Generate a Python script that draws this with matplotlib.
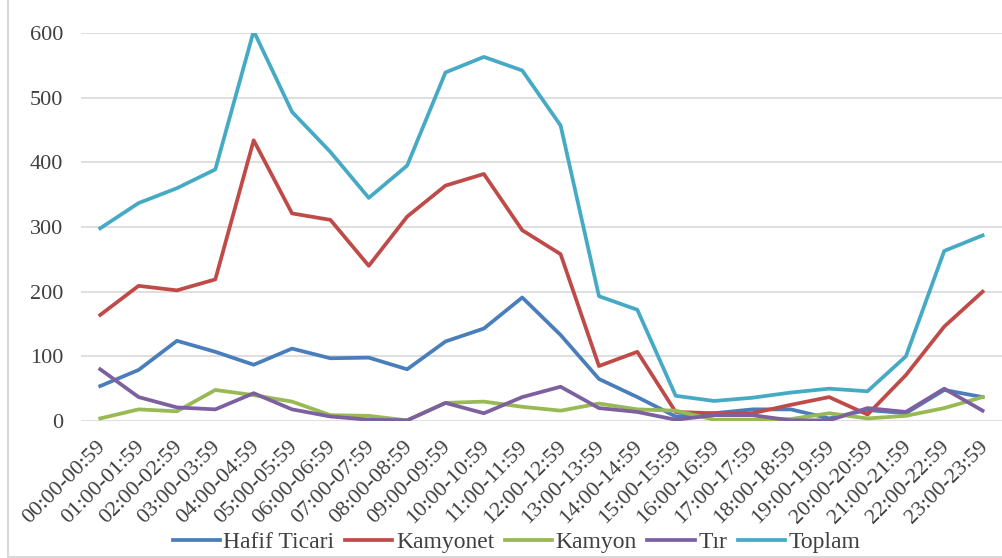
import matplotlib.pyplot as plt
import matplotlib.transforms as mtransforms
from matplotlib.lines import Line2D

plt.rcParams["font.family"] = ["Liberation Serif", "DejaVu Serif"]

# Hourly vehicle counts
hours = [f"{h:02d}:00-{h:02d}:59" for h in range(24)]

hafif_ticari = [54, 79, 124, 107, 87, 112, 97, 98, 80, 123, 143, 191,
                133, 65, 37, 7, 12, 18, 18, 4, 17, 12, 48, 37]
kamyonet = [164, 209, 202, 219, 434, 321, 311, 240, 316, 364, 382, 295,
            258, 85, 107, 14, 12, 12, 25, 37, 10, 71, 146, 200]
kamyon = [4, 18, 15, 48, 40, 30, 9, 8, 1, 28, 30, 22,
          16, 27, 18, 16, 2, 2, 3, 12, 4, 8, 20, 37]
tir = [80, 37, 21, 18, 43, 18, 7, 2, 1, 28, 12, 37,
       53, 20, 14, 2, 9, 9, 1, 1, 20, 14, 50, 16]
toplam = [298, 337, 360, 389, 603, 478, 416, 345, 395, 539, 563, 542,
          457, 193, 172, 39, 31, 36, 44, 50, 46, 100, 263, 287]

series = [
    ("Hafif Ticari", hafif_ticari, "#4A7EBB"),
    ("Kamyonet", kamyonet, "#BE4B48"),
    ("Kamyon", kamyon, "#98B954"),
    ("Tır", tir, "#7D60A0"),
    ("Toplam", toplam, "#46AAC5"),
]

fig = plt.figure(figsize=(10.03, 5.58), dpi=100)
ax = fig.add_axes([0.0808, 0.2455, 0.918, 0.6954])

x = range(len(hours))
for name, values, color in series:
    ax.plot(x, values, color=color, lw=2.7, label=name, solid_joinstyle="round")

ax.set_xlim(-0.5, 23.5)
ax.set_ylim(0, 600)
ax.set_yticks(range(0, 601, 100))
ax.yaxis.grid(True, color="#D9D9D9", lw=1.2)
ax.set_axisbelow(True)
for side in ["top", "right", "left", "bottom"]:
    ax.spines[side].set_visible(False)
ax.tick_params(axis="both", length=0, colors="#404040")
ax.tick_params(axis="y", pad=13, labelsize=16)

ax.set_xticks(list(x))
ax.set_xticklabels(hours, rotation=45, ha="right", va="top",
                   rotation_mode="anchor", fontsize=16)
ax.tick_params(axis="x", pad=12)
shift = mtransforms.ScaledTranslation(-4 / 100, 0, fig.dpi_scale_trans)
for lbl in ax.get_xticklabels():
    lbl.set_transform(lbl.get_transform() + shift)

fig.legend(loc="center", bbox_to_anchor=(0.515, 0.028), ncol=5,
           frameon=False, fontsize=17, handlelength=2.0, handletextpad=0.15,
           columnspacing=0.45, labelcolor="#404040", borderpad=0)

# chart border on the left and bottom edges
fig.add_artist(Line2D([0.008, 0.008], [0.0, 1.0], transform=fig.transFigure,
                      color="#D9D9D9", lw=1.5))
fig.add_artist(Line2D([0.008, 1.0], [0.002, 0.002], transform=fig.transFigure,
                      color="#D9D9D9", lw=1.5))

fig.savefig("out.png", dpi=100)
